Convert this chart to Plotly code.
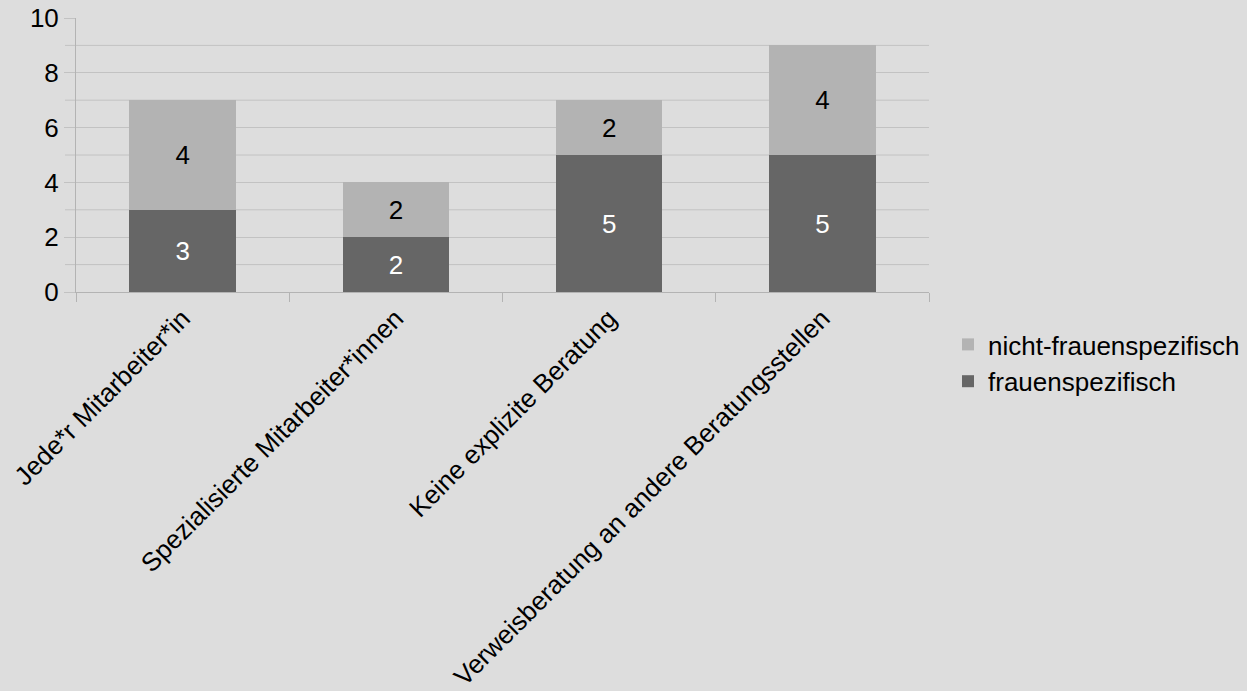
import plotly.graph_objects as go

categories = ["Jede*r Mitarbeiter*in", "Spezialisierte Mitarbeiter*innen",
              "Keine explizite Beratung", "Verweisberatung an andere Beratungsstellen"]
frauenspezifisch = [3, 2, 5, 5]
nicht_frauenspezifisch = [4, 2, 2, 4]
y_ticks = [0, 2, 4, 6, 8, 10]

FONT = "Liberation Sans, Arial, sans-serif"
BG = "#dddddd"
GRID = "#c2c2c2"
AXIS = "#b3b3b3"
FS = 26

fig = go.Figure()
fig.add_trace(go.Bar(
    x=categories, y=frauenspezifisch, name="frauenspezifisch",
    marker=dict(color="#666666", line=dict(width=0)),
    text=frauenspezifisch, textposition="inside", insidetextanchor="middle",
    textfont=dict(size=FS, color="white", family=FONT), width=0.5,
))
fig.add_trace(go.Bar(
    x=categories, y=nicht_frauenspezifisch, name="nicht-frauenspezifisch",
    marker=dict(color="#b3b3b3", line=dict(width=0)),
    text=nicht_frauenspezifisch, textposition="inside", insidetextanchor="middle",
    textfont=dict(size=FS, color="black", family=FONT), width=0.5,
))

fig.update_layout(
    barmode="stack",
    width=1247, height=691,
    paper_bgcolor=BG, plot_bgcolor=BG,
    margin=dict(l=76, r=318, t=18, b=399, pad=0, autoexpand=False),
    font=dict(family=FONT, size=FS, color="black"),
    legend=dict(
        traceorder="reversed", x=948/1247, y=1-363/691, xanchor="left", yanchor="middle",
        xref="container", yref="container",
        font=dict(size=FS), bgcolor="rgba(0,0,0,0)",
    ),
    xaxis=dict(
        range=[-0.5, 3.5], tickangle=-45, tickson="boundaries", automargin=False,
        ticks="outside", ticklen=9, tickcolor=AXIS, tickwidth=1,
        showline=True, linecolor=AXIS, linewidth=1,
        showgrid=False, tickfont=dict(size=FS),
    ),
    yaxis=dict(
        range=[0, 10], tickmode="array", tickvals=y_ticks, ticks="outside", ticklen=11,
        automargin=False,
        tickcolor=GRID, showline=True, linecolor=AXIS, linewidth=1,
        showgrid=True, gridcolor=GRID, gridwidth=1, zeroline=False,
        tickfont=dict(size=FS),
    ),
)

# minor gridlines at odd values
for v in [1, 3, 5, 7, 9]:
    fig.add_shape(type="line", xref="paper", yref="y", x0=-11/853, x1=1, y0=v, y1=v,
                  line=dict(color=GRID, width=1), layer="below")

fig.write_html("out.html", config={"displayModeBar": False},
               post_script="document.body.style.margin='0';")
